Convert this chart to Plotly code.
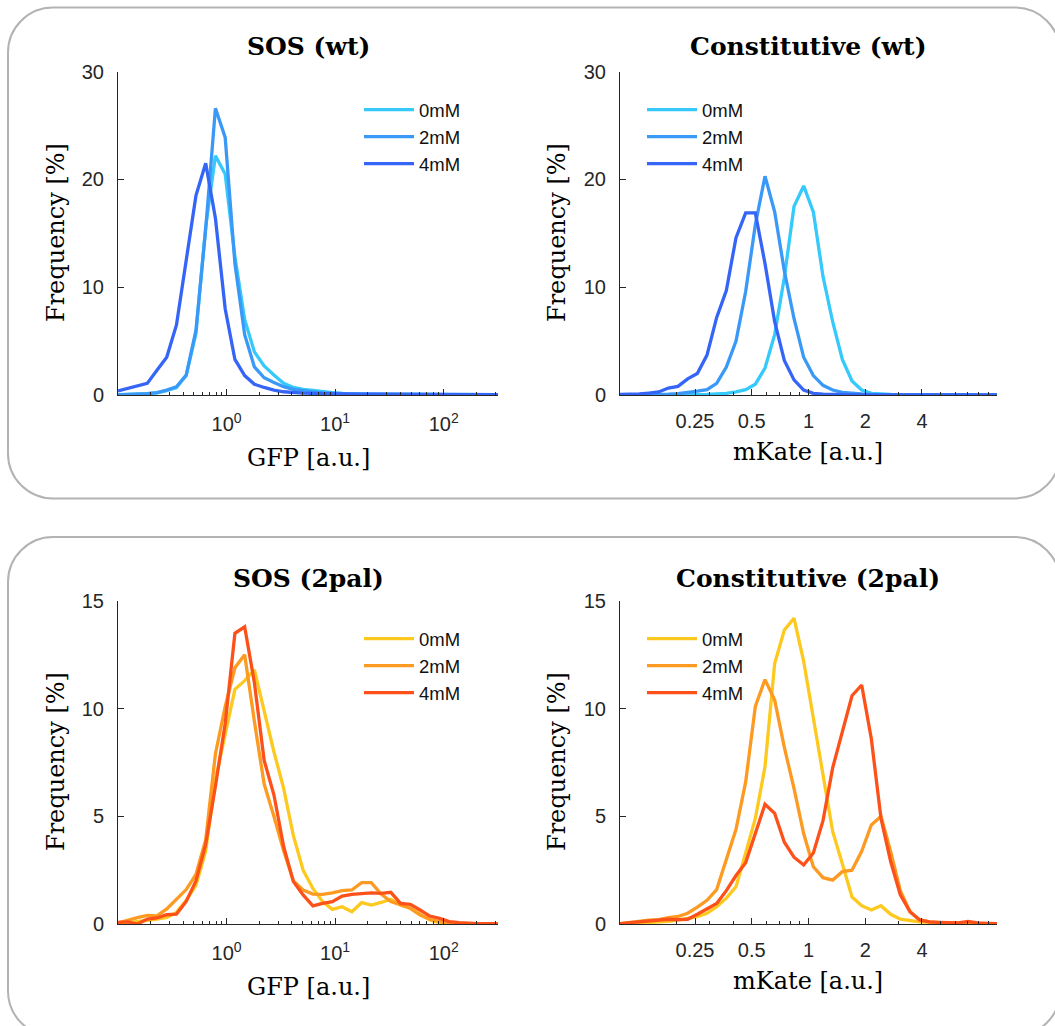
import plotly.graph_objects as go

W, H = 1055, 1026

# Log-spaced histogram bin positions
GFP_BINS = [0.1, 0.1230, 0.1512, 0.1859, 0.2285, 0.2810, 0.3455, 0.4248, 0.5223, 0.6422,
            0.7894, 0.9709, 1.1938, 1.4678, 1.8047, 2.2190, 2.7283, 3.3545, 4.1245, 5.0710,
            6.2351, 7.6661, 9.4264, 11.589, 14.251, 17.521, 21.544, 26.490, 32.570, 40.045,
            49.237, 60.537, 74.432, 91.516, 112.52, 138.35, 170.10, 209.15, 257.15, 316.23]
MKATE_BINS = [0.1, 0.1125, 0.1267, 0.1425, 0.1604, 0.1805, 0.2031, 0.2285, 0.2572, 0.2894,
              0.3257, 0.3665, 0.4125, 0.4642, 0.5223, 0.5878, 0.6615, 0.7444, 0.8377, 0.9426,
              1.0608, 1.1938, 1.3434, 1.5118, 1.7012, 1.9145, 2.1544, 2.4245, 2.7283, 3.0703,
              3.4551, 3.8882, 4.3756, 4.9239, 5.5410, 6.2351, 7.0166, 7.8961, 8.8860, 10.0]

CONDITIONS = ["0mM", "2mM", "4mM"]

# Frequency [%] per bin
SOS_WT_0 = [0.03, 0.05, 0.08, 0.12, 0.2, 0.4, 0.7, 1.8, 5.7, 15.6,
            22.2, 20.5, 12.8, 7.0, 4.0, 2.7, 1.85, 1.08, 0.7, 0.52,
            0.42, 0.3, 0.22, 0.16, 0.12, 0.1, 0.09, 0.08, 0.07, 0.06,
            0.06, 0.05, 0.05, 0.04, 0.04, 0.04, 0.03, 0.03, 0.03, 0.03]
SOS_WT_2 = [0.02, 0.03, 0.06, 0.12, 0.22, 0.45, 0.77, 1.85, 6.0, 15.4,
            26.6, 23.9, 12.2, 5.6, 2.6, 1.6, 1.17, 0.77, 0.52, 0.37,
            0.28, 0.2, 0.15, 0.12, 0.1, 0.08, 0.07, 0.06, 0.06, 0.05,
            0.05, 0.04, 0.04, 0.04, 0.03, 0.03, 0.03, 0.03, 0.02, 0.02]
SOS_WT_4 = [0.37, 0.6, 0.83, 1.08, 2.3, 3.5, 6.5, 12.3, 18.5, 21.5,
            16.4, 8.0, 3.3, 1.8, 1.0, 0.7, 0.45, 0.3, 0.22, 0.18,
            0.15, 0.12, 0.1, 0.1, 0.09, 0.08, 0.08, 0.07, 0.07, 0.06,
            0.06, 0.06, 0.05, 0.05, 0.05, 0.05, 0.04, 0.04, 0.04, 0.04]

CONST_WT_0 = [0.0, 0.0, 0.01, 0.01, 0.01, 0.02, 0.02, 0.03, 0.03, 0.05,
              0.1, 0.15, 0.3, 0.5, 1.0, 2.5, 5.6, 10.9, 17.5, 19.4,
              17.0, 11.0, 6.8, 3.3, 1.3, 0.46, 0.15, 0.08, 0.05, 0.03,
              0.02, 0.02, 0.02, 0.01, 0.01, 0.01, 0.01, 0.01, 0.01, 0.01]
CONST_WT_2 = [0.02, 0.02, 0.03, 0.04, 0.05, 0.08, 0.12, 0.2, 0.35, 0.5,
              1.08, 2.6, 5.0, 9.6, 15.8, 20.3, 17.0, 11.5, 7.1, 3.5,
              1.8, 0.9, 0.46, 0.25, 0.15, 0.1, 0.06, 0.05, 0.04, 0.03,
              0.02, 0.02, 0.02, 0.02, 0.02, 0.02, 0.02, 0.02, 0.02, 0.02]
CONST_WT_4 = [0.05, 0.06, 0.1, 0.18, 0.28, 0.65, 0.8, 1.5, 2.0, 3.7,
              7.2, 9.7, 14.6, 16.9, 16.9, 12.2, 6.8, 3.2, 1.4, 0.46,
              0.15, 0.08, 0.05, 0.04, 0.03, 0.02, 0.02, 0.02, 0.02, 0.02,
              0.02, 0.02, 0.02, 0.02, 0.02, 0.02, 0.02, 0.02, 0.02, 0.02]

SOS_PAL_0 = [0.0, 0.05, 0.1, 0.18, 0.23, 0.31, 0.54, 1.1, 1.8, 3.4,
             6.7, 8.8, 10.9, 11.3, 11.8, 9.9, 8.0, 6.3, 4.1, 2.5,
             1.65, 1.04, 0.68, 0.8, 0.57, 0.99, 0.88, 1.0, 1.15, 0.88,
             0.73, 0.46, 0.19, 0.06, 0.03, 0.02, 0.02, 0.02, 0.01, 0.01]
SOS_PAL_2 = [0.05, 0.18, 0.3, 0.4, 0.38, 0.7, 1.16, 1.6, 2.3, 3.9,
             7.9, 10.1, 11.9, 12.5, 9.4, 6.5, 5.0, 3.4, 2.0, 1.58,
             1.39, 1.38, 1.45, 1.55, 1.58, 1.92, 1.92, 1.39, 1.04, 0.88,
             0.73, 0.42, 0.22, 0.11, 0.03, 0.02, 0.02, 0.02, 0.01, 0.01]
SOS_PAL_4 = [0.08, 0.1, 0.0, 0.23, 0.28, 0.43, 0.46, 1.05, 2.0, 3.7,
             6.4, 9.3, 13.5, 13.8, 11.2, 7.6, 6.0, 3.6, 1.97, 1.35,
             0.84, 0.96, 1.04, 1.3, 1.38, 1.42, 1.45, 1.42, 1.47, 0.96,
             0.91, 0.65, 0.37, 0.26, 0.11, 0.06, 0.03, 0.02, 0.02, 0.01]

CONST_PAL_0 = [0.0, 0.02, 0.05, 0.08, 0.1, 0.12, 0.18, 0.25, 0.34, 0.5,
               0.8, 1.2, 1.73, 3.3, 4.9, 7.3, 12.1, 13.65, 14.2, 12.2,
               9.6, 6.8, 4.3, 2.8, 1.25, 0.85, 0.65, 0.85, 0.45, 0.22,
               0.15, 0.1, 0.08, 0.05, 0.04, 0.03, 0.02, 0.02, 0.01, 0.01]
CONST_PAL_2 = [0.02, 0.08, 0.12, 0.18, 0.2, 0.3, 0.35, 0.5, 0.78, 1.1,
               1.6, 3.0, 4.4, 6.6, 10.1, 11.35, 10.4, 8.2, 6.3, 4.2,
               2.66, 2.15, 2.04, 2.43, 2.5, 3.38, 4.6, 5.0, 3.36, 1.55,
               0.57, 0.19, 0.1, 0.06, 0.04, 0.03, 0.02, 0.02, 0.01, 0.01]
CONST_PAL_4 = [0.02, 0.06, 0.1, 0.15, 0.18, 0.22, 0.2, 0.22, 0.45, 0.7,
               0.95, 1.55, 2.25, 2.85, 4.2, 5.56, 5.14, 3.8, 3.1, 2.74,
               3.3, 4.8, 7.25, 8.9, 10.6, 11.1, 8.6, 4.9, 2.9, 1.35,
               0.57, 0.19, 0.1, 0.08, 0.07, 0.05, 0.12, 0.05, 0.03, 0.02]

GFP_TICKS = [1, 10, 100]
GFP_TICKTEXT = ["10<sup>0</sup>", "10<sup>1</sup>", "10<sup>2</sup>"]
MKATE_TICKS = [0.25, 0.5, 1, 2, 4]
MKATE_TICKTEXT = ["0.25", "0.5", "1", "2", "4"]

BLUES = ["#35C9FC", "#3A99F7", "#3565F6"]
WARMS = ["#FDC91E", "#FC9A22", "#FD511A"]

AXIS_COLOR = "#262626"
SANS = "Liberation Sans"
SERIF = "DejaVu Serif"


def px_x(x):
    return x / W


def px_y(y):
    return 1 - y / H


panels = [
    # (xaxis id, bins, series, colours, legend id)
    ("x", GFP_BINS, [SOS_WT_0, SOS_WT_2, SOS_WT_4], BLUES, "legend"),
    ("x2", MKATE_BINS, [CONST_WT_0, CONST_WT_2, CONST_WT_4], BLUES, "legend2"),
    ("x3", GFP_BINS, [SOS_PAL_0, SOS_PAL_2, SOS_PAL_4], WARMS, "legend3"),
    ("x4", MKATE_BINS, [CONST_PAL_0, CONST_PAL_2, CONST_PAL_4], WARMS, "legend4"),
]

fig = go.Figure()
for xid, bins, series, colors, leg in panels:
    yid = xid.replace("x", "y")
    for name, vals, col in zip(CONDITIONS, series, colors):
        fig.add_trace(go.Scatter(
            x=bins, y=vals, name=name, mode="lines",
            line=dict(color=col, width=3.3),
            xaxis=xid, yaxis=yid, legend=leg,
            hoverinfo="skip",
        ))

# axis pixel boxes
LEFT_X = (118, 498)
RIGHT_X = (620, 997)
TOP_Y = (71.7, 395)
BOT_Y = (601, 924)


def minor_vals(lo_exp, hi_exp):
    vals = []
    for e in range(lo_exp, hi_exp + 1):
        for m in range(2, 10):
            vals.append(m * 10 ** e)
    return vals


def xaxis_style(xr, kind, anchor):
    d = dict(
        type="log", domain=[px_x(xr[0]), px_x(xr[1])], anchor=anchor,
        showline=True, linecolor=AXIS_COLOR, linewidth=1,
        ticks="inside", ticklen=6, tickwidth=1, tickcolor=AXIS_COLOR,
        showgrid=False, zeroline=False, tickmode="array", automargin=False,
        tickfont=dict(family=SANS, size=20, color=AXIS_COLOR),
        minor=dict(ticks="inside", ticklen=3, tickwidth=1, tickcolor=AXIS_COLOR,
                   tickmode="array", showgrid=False),
    )
    if kind == "gfp":
        d.update(range=[-1, 2.5], tickvals=GFP_TICKS, ticktext=GFP_TICKTEXT,
                 ticklabelstandoff=11)
        d["minor"]["tickvals"] = minor_vals(-1, 2)
    else:
        d.update(range=[-1, 1], tickvals=MKATE_TICKS, ticktext=MKATE_TICKTEXT,
                 ticklabelstandoff=8)
        d["minor"]["tickvals"] = minor_vals(-1, 0)
    return d


def yaxis_style(yr, top, anchor):
    step = top / 3
    return dict(
        domain=[px_y(yr[1]), px_y(yr[0])], anchor=anchor, range=[0, top],
        showline=True, linecolor=AXIS_COLOR, linewidth=1,
        ticks="inside", ticklen=6, tickwidth=1, tickcolor=AXIS_COLOR,
        showgrid=False, zeroline=False, tickmode="array", automargin=False,
        tickvals=[0, step, 2 * step, top],
        tickfont=dict(family=SANS, size=20, color=AXIS_COLOR),
        ticklabelstandoff=9,
    )


fig.update_layout(
    xaxis=xaxis_style(LEFT_X, "gfp", "y"),
    yaxis=yaxis_style(TOP_Y, 30, "x"),
    xaxis2=xaxis_style(RIGHT_X, "mkate", "y2"),
    yaxis2=yaxis_style(TOP_Y, 30, "x2"),
    xaxis3=xaxis_style(LEFT_X, "gfp", "y3"),
    yaxis3=yaxis_style(BOT_Y, 15, "x3"),
    xaxis4=xaxis_style(RIGHT_X, "mkate", "y4"),
    yaxis4=yaxis_style(BOT_Y, 15, "x4"),
)


def legend_style(x_px, y_px):
    return dict(
        x=px_x(x_px), y=px_y(y_px), xanchor="left", yanchor="top",
        bgcolor="rgba(0,0,0,0)", borderwidth=0,
        font=dict(family=SANS, size=18.5, color="#111111"),
        itemwidth=50, tracegroupgap=0,
    )


fig.update_layout(
    legend=legend_style(359, 91),
    legend2=legend_style(642, 91),
    legend3=legend_style(359, 620),
    legend4=legend_style(642, 620),
)

# Titles and axis labels
annotations = []


def label(text, x, y, size, angle=0):
    annotations.append(dict(
        text=text, x=px_x(x), y=px_y(y), xref="paper", yref="paper",
        xanchor="center", yanchor="middle", showarrow=False, textangle=angle,
        font=dict(family=SERIF, size=size, color="#000000"),
    ))


label("<b>SOS (wt)</b>", 308, 47, 25)
label("<b>Constitutive (wt)</b>", 808, 47, 25)
label("<b>SOS (2pal)</b>", 308, 578, 25)
label("<b>Constitutive (2pal)</b>", 808, 578, 25)
label("GFP [a.u.]", 308, 458, 24)
label("mKate [a.u.]", 808, 452, 24)
label("GFP [a.u.]", 308, 987, 24)
label("mKate [a.u.]", 808, 981, 24)
for xpx in (56, 557):
    label("Frequency [%]", xpx, 233, 24, -90)
    label("Frequency [%]", xpx, 762, 24, -90)


# Rounded panel frames
def rounded_path(x0, y0, x1, y1, r):
    k = 0.5523 * r
    pts = [
        ("M", [(x0 + r, y0)]),
        ("L", [(x1 - r, y0)]),
        ("C", [(x1 - r + k, y0), (x1, y0 + r - k), (x1, y0 + r)]),
        ("L", [(x1, y1 - r)]),
        ("C", [(x1, y1 - r + k), (x1 - r + k, y1), (x1 - r, y1)]),
        ("L", [(x0 + r, y1)]),
        ("C", [(x0 + r - k, y1), (x0, y1 - r + k), (x0, y1 - r)]),
        ("L", [(x0, y0 + r)]),
        ("C", [(x0, y0 + r - k), (x0 + r - k, y0), (x0 + r, y0)]),
    ]
    out = []
    for cmd, coords in pts:
        out.append(cmd + " ".join(f"{px_x(a):.5f},{px_y(b):.5f}" for a, b in coords))
    return " ".join(out) + " Z"


shapes = [
    dict(type="path", path=rounded_path(8, 7.5, 1060, 498.5, 45), xref="paper", yref="paper",
         line=dict(color="#b3b3b3", width=2), layer="below"),
    dict(type="path", path=rounded_path(8, 537, 1060, 1036, 45), xref="paper", yref="paper",
         line=dict(color="#b3b3b3", width=2), layer="below"),
]

fig.update_layout(
    width=W, height=H, autosize=False,
    margin=dict(l=0, r=0, t=0, b=0, pad=0, autoexpand=False),
    paper_bgcolor="white", plot_bgcolor="white",
    annotations=annotations, shapes=shapes, showlegend=True,
)

fig.write_html("out.html")
